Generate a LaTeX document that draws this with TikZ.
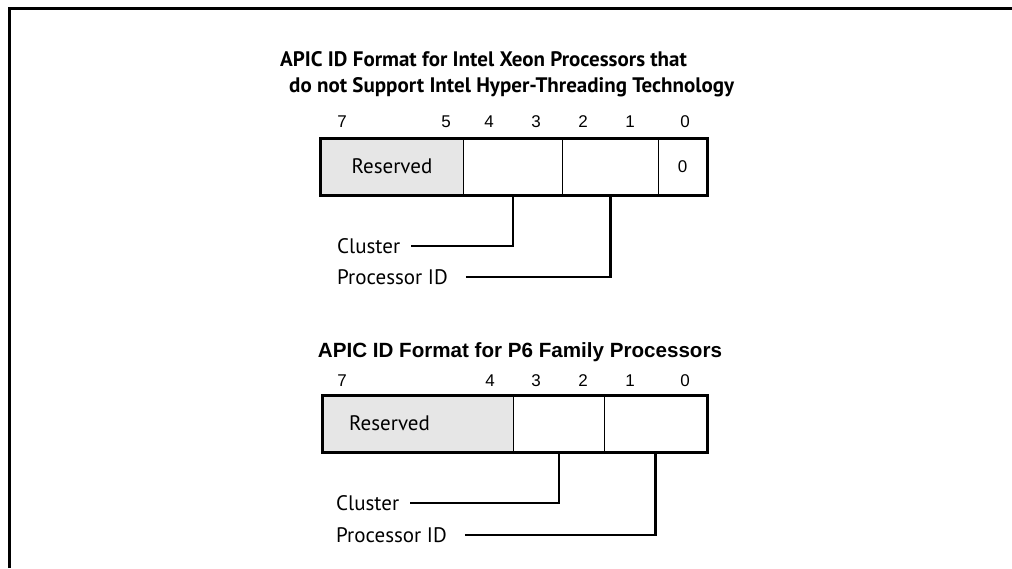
\documentclass[tikz,border=0pt]{standalone}
\usepackage{fontspec}
\setmainfont{Liberation Sans}
\newfontfamily\clearfont{PT Sans}
\usetikzlibrary{positioning}
\definecolor{resgray}{RGB}{230,230,230}

\begin{document}
\begin{tikzpicture}[x=1pt, y=-1pt,
  cell/.style={draw, line width=1pt, minimum height=56pt, inner sep=0pt, anchor=north west},
  rim/.style={draw, line width=3pt},
  conn/.style={draw, line width=2.8pt},
  bitno/.style={font=\fontsize{17}{19}\selectfont, inner sep=0pt},
  lbl/.style={font=\clearfont\fontsize{21}{24}\selectfont, inner sep=0pt, anchor=west}]
  \useasboundingbox (0,0) rectangle (1012,568);
  % frame
  \draw[line width=3pt] (9,568) -- (9,8) -- (1012,8);

  % Xeon register
  \node[font=\clearfont\bfseries\fontsize{21}{26}\selectfont, align=left, anchor=north west, inner sep=0pt]
    (titleA) at (280,51) {APIC ID Format for Intel Xeon Processors that\\\hspace{9pt}do not Support Intel Hyper-Threading Technology};
  \node[cell, fill=resgray, minimum width=143pt] (resA) at (320,138) {};
  \node[cell, minimum width=99pt] (cluA) at (463,138) {};
  \node[cell, minimum width=96pt] (pidA) at (562,138) {};
  \node[cell, minimum width=48pt] (lowA) at (658,138) {};
  \node[lbl, anchor=center] (resTxtA) at (resA) {Reserved};
  \node[bitno] (zeroA) at (lowA) {0};
  \draw[rim] (resA.north west) rectangle (lowA.south east);
  \foreach \n/\x in {7/342, 5/446, 4/489, 3/536, 2/583, 1/630, 0/685}
    \node[bitno] (bitA\n) at (\x,122) {\n};
  \node[lbl] (cluTxtA) at (337,246) {Cluster};
  \node[lbl] (pidTxtA) at (337,277) {Processor ID};
  \draw[conn] ([xshift=11pt]cluTxtA.east) -| (cluA.south);
  \draw[conn] ([xshift=18pt]pidTxtA.east) -| (pidA.south);

  % P6 register
  \node[font=\bfseries\fontsize{20.6}{24}\selectfont, inner sep=0pt] (titleB) at (520,352) {APIC ID Format for P6 Family Processors};
  \node[cell, fill=resgray, minimum width=191pt] (resB) at (322,395) {};
  \node[cell, minimum width=91pt] (cluB) at (513,395) {};
  \node[cell, minimum width=102pt] (pidB) at (604,395) {};
  \node[lbl] (resTxtB) at (349,423) {Reserved};
  \draw[rim] (resB.north west) rectangle (pidB.south east);
  \foreach \n/\x in {7/342, 4/490, 3/536, 2/583, 1/630, 0/685}
    \node[bitno] (bitB\n) at (\x,381) {\n};
  \node[lbl] (cluTxtB) at (336,503) {Cluster};
  \node[lbl] (pidTxtB) at (336,535) {Processor ID};
  \draw[conn] ([xshift=11pt]cluTxtB.east) -| (cluB.south);
  \draw[conn] ([xshift=18pt]pidTxtB.east) -| (pidB.south);
\end{tikzpicture}
\end{document}
